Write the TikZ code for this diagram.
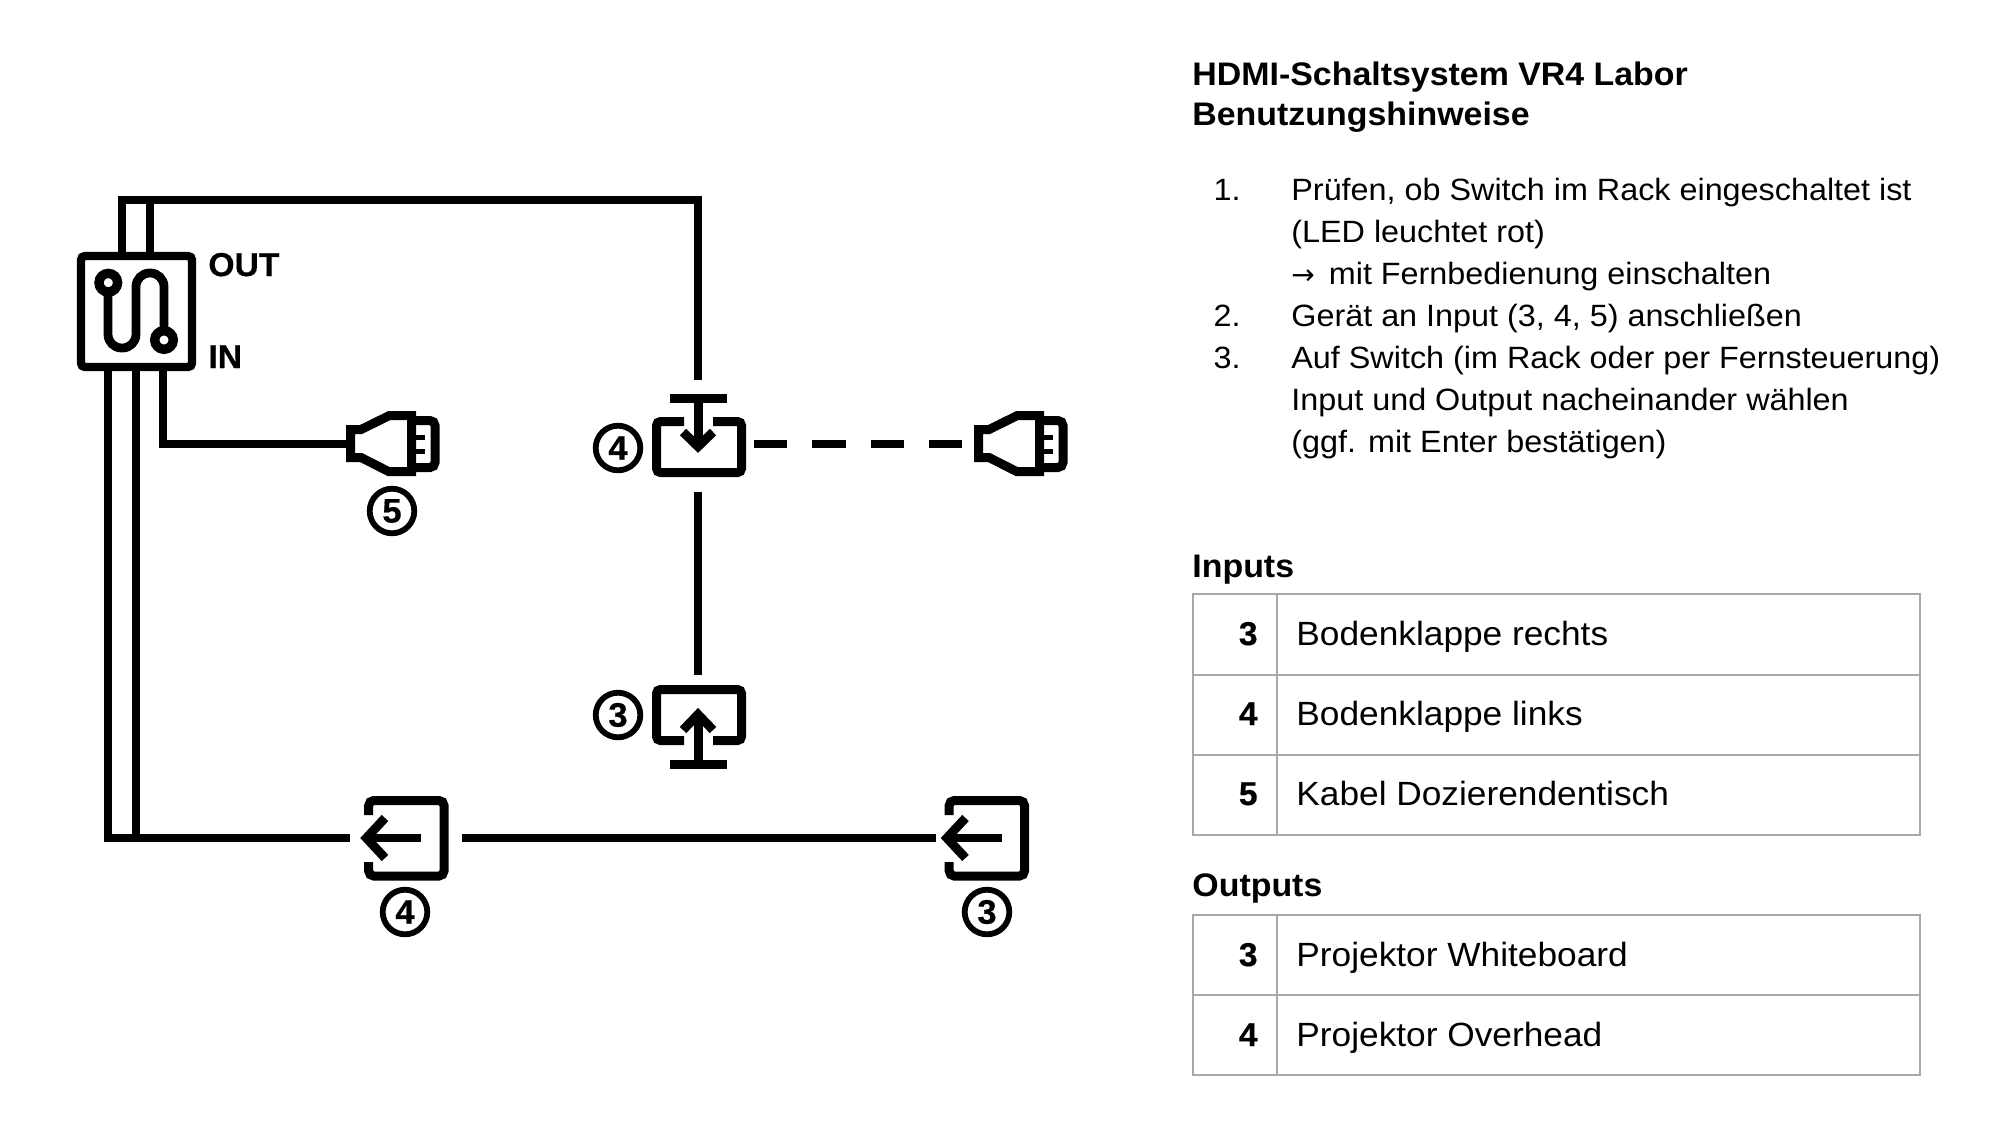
\documentclass[tikz,border=0pt]{standalone}
\usepackage{fontspec}
\setmainfont{Liberation Sans}
\newfontfamily\txtfont[FakeStretch=1.05]{Liberation Sans}
\newfontfamily\arrowfont{DejaVu Sans}
\newfontfamily\hdfont[FakeStretch=1.04]{Liberation Sans Bold}
\newfontfamily\lblfont[FakeStretch=1.02,FakeBold=0.5]{Liberation Sans Bold}
\definecolor{tablegrey}{HTML}{A8A8A8}
\tikzset{
 wire/.style={line width=4.2pt,black,line cap=butt,miter limit=10},
 iconline/.style={line width=4.5pt,black,rounded corners=2pt,line cap=butt},
 tline/.style={line width=1.4pt,color=tablegrey},
 body/.style={anchor=base west,inner sep=0pt,font=\txtfont\fontsize{15.4pt}{18pt}\selectfont},
 cell/.style={anchor=base west,inner sep=0pt,font=\txtfont\fontsize{16.8pt}{18pt}\selectfont},
 listnum/.style={anchor=base east,inner sep=0pt,font=\txtfont\fontsize{15.4pt}{18pt}\selectfont},
 head/.style={anchor=base west,inner sep=0pt,font=\hdfont\fontsize{16.3pt}{18pt}\selectfont},
 rownum/.style={anchor=base east,inner sep=0pt,font=\lblfont\fontsize{16.5pt}{18pt}\selectfont},
 lbl/.style={anchor=base west,inner sep=0pt,font=\lblfont\fontsize{16.5pt}{18pt}\selectfont},
 numc/.style={circle,draw,line width=2.9pt,minimum size=22.3pt,inner sep=0pt,outer sep=0pt,font=\lblfont\fontsize{17pt}{18pt}\selectfont},
 pics/plug/.style={code={
   \draw[line width=4.5pt,miter limit=10] (4.7,-14.5)--(15,-14.5)--(43,-28.3)--(65.6,-28.3)--(65.6,27.7)--(43,27.7)--(15,13.5)--(4.7,13.5)--cycle;
   \draw[line width=4.5pt,rounded corners=2.5pt] (68,-23.5)--(89,-23.5)--(89,23.5)--(68,23.5);
   \draw[line width=2.5pt] (68,-7)--(79,-7) (68,7)--(79,7);
 }},
 pics/down/.style={code={
   \draw[iconline] (-14,-27.5)--(-41.5,-27.5)--(-41.5,23.5)--(43.5,23.5)--(43.5,-27.5)--(15,-27.5);
   \draw[line width=4.5pt] (0,-51)--(0,-3);
   \draw[line width=4.5pt] (-28,-51)--(29,-51);
   \draw[line width=4.5pt,miter limit=10] (-15,-17)--(0,-2.4)--(15,-17);
 }},
 pics/up/.style={code={
   \draw[iconline] (-14,25.5)--(-41.5,25.5)--(-41.5,-25.5)--(43.5,-25.5)--(43.5,25.5)--(15,25.5);
   \draw[line width=4.5pt] (0,49)--(0,0);
   \draw[line width=4.5pt] (-28,49)--(29,49);
   \draw[line width=4.5pt,miter limit=10] (-15,15)--(0,-0.6)--(15,15);
 }},
 pics/exit/.style={code={
   \draw[line width=4.5pt,rounded corners=2.5pt] (10.7,-23)--(10.7,-37.5)--(86,-37.5)--(86,38)--(10.7,38)--(10.7,24);
   \draw[line width=4.3pt] (10,0)--(63,0);
   \draw[line width=4.5pt,miter limit=10] (27,-20)--(8.4,0)--(27,20);
 }},
}
\begin{document}
\begin{tikzpicture}[x=0.5pt,y=-0.5pt]
\useasboundingbox (0,0) rectangle (2000,1125);
% switch
\draw[line width=4.2pt,rounded corners=2pt] (81,256) rectangle (192,367);
\coordinate (swT1) at (122,252);
\coordinate (swT2) at (150,252);
\coordinate (swB1) at (108,371);
\coordinate (swB2) at (136,371);
\coordinate (swB3) at (163,371);
\draw[line width=4.7pt] (108.3,282.7) circle (9.3);
\draw[line width=4.7pt] (164,340) circle (9.3);
\draw[line width=4.4pt,rounded corners=6.8pt] (108,292)--(108,348)--(136,348)--(136,273)--(164,273)--(164,331);
\node[lbl] (out) at (208,276) {OUT};
\node[lbl] (in) at (208,368) {IN};
% icons
\coordinate (p5) at (346,444);
\coordinate (p4) at (974,444);
\pic at (p5) {plug};
\pic at (p4) {plug};
\coordinate (dn) at (698,449);
\coordinate (upi) at (698,715);
\pic at (dn) {down};
\pic at (upi) {up};
\coordinate (ex4) at (358,838);
\coordinate (ex3) at (938.5,838);
\pic at (ex4) {exit};
\pic at (ex3) {exit};
\node[numc] (n5) at (392,511) {5};
\node[numc] (n4a) at (618,448) {4};
\node[numc] (n3a) at (618,715) {3};
\node[numc] (n4b) at (405,912) {4};
\node[numc] (n3b) at (987,912) {3};
% connectors
\coordinate (cTop) at (122,200);
\coordinate (cTop2) at (150,200);
\coordinate (cRight) at (698,200);
\coordinate (cDnTop) at (698,380);
\draw[wire] (swT2)--(cTop2);
\draw[wire] (swT1)--(cTop)--(cRight)--(cDnTop);
\coordinate (cBL) at (108,838);
\coordinate (cB2) at (136,838);
\coordinate (cBend) at (350,838);
\draw[wire] (swB1)--(cBL)--(cBend);
\draw[wire] (swB2)--(cB2);
\coordinate (cP5) at (163,444);
\coordinate (cP5e) at (347,444);
\draw[wire] (swB3)--(cP5)--(cP5e);
\coordinate (d1) at (754,444);
\coordinate (d2) at (962,444);
\draw[wire,line width=4.3pt,dash pattern=on 16.7pt off 12.5pt] (d1)--(d2);
\coordinate (v1) at (698,492);
\coordinate (v2) at (698,675);
\draw[wire] (v1)--(v2);
\coordinate (h1) at (462,838);
\coordinate (h2) at (936,838);
\draw[wire] (h1)--(h2);
% text
\node[head] (t1) at (1192,85) {HDMI-Schaltsystem VR4 Labor};
\node[head] (t2) at (1192,125) {Benutzungshinweise};
\node[listnum] (l1) at (1241,200) {1.};
\node[body] (b1) at (1291,200) {Prüfen, ob Switch im Rack eingeschaltet ist};
\node[body] (b2) at (1291,242) {(LED leuchtet rot)};
\node[body] (b3) at (1291,284) {{\arrowfont\fontsize{14pt}{18pt}\selectfont →}\hspace{7pt}mit Fernbedienung einschalten};
\node[listnum] (l2) at (1241,326) {2.};
\node[body] (b4) at (1291,326) {Gerät an Input (3, 4, 5) anschließen};
\node[listnum] (l3) at (1241,368) {3.};
\node[body] (b5) at (1291,368) {Auf Switch (im Rack oder per Fernsteuerung)};
\node[body] (b6) at (1291,410) {Input und Output nacheinander wählen};
\node[body] (b7) at (1291,452) {(ggf. mit Enter bestätigen)};
\node[head] (hi) at (1192,577) {Inputs};
\node[head] (ho) at (1192,896) {Outputs};
% tables
\draw[tline] (1193,594) rectangle (1920,835);
\draw[tline] (1193,675)--(1920,675) (1193,755)--(1920,755) (1277,594)--(1277,835);
\draw[tline] (1193,915) rectangle (1920,1075);
\draw[tline] (1193,995)--(1920,995) (1277,915)--(1277,1075);
\node[rownum] (r1) at (1258,645) {3};
\node[cell] (r1t) at (1296,645) {Bodenklappe rechts};
\node[rownum] (r2) at (1258,725) {4};
\node[cell] (r2t) at (1296,725) {Bodenklappe links};
\node[rownum] (r3) at (1258,805) {5};
\node[cell] (r3t) at (1296,805) {Kabel Dozierendentisch};
\node[rownum] (r4) at (1258,966) {3};
\node[cell] (r4t) at (1296,966) {Projektor Whiteboard};
\node[rownum] (r5) at (1258,1046) {4};
\node[cell] (r5t) at (1296,1046) {Projektor Overhead};
\end{tikzpicture}
\end{document}
